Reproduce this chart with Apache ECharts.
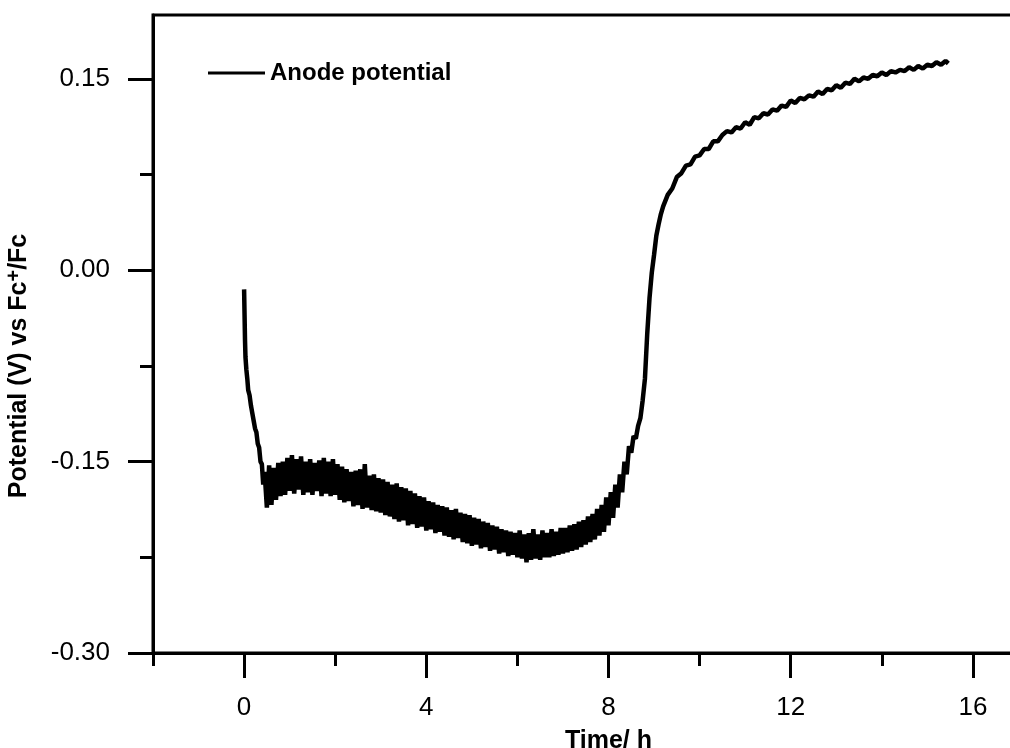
<!DOCTYPE html>
<html><head><meta charset="utf-8">
<script src="https://cdn.jsdelivr.net/npm/echarts@6/dist/echarts.min.js"></script>
<style>html,body{margin:0;padding:0;background:#fff}#c{width:1010px;height:748px}</style>
</head><body><div id="c"></div>
<script>
const seriesName = 'Anode potential';
const xAxisName = 'Time/ h';
const xMajorTicks = [0, 4, 8, 12, 16];
const xMinorTicks = [-2, 2, 6, 10, 14, 18];
const yMajorTicks = [-0.30, -0.15, 0, 0.15];
const yMinorTicks = [-0.225, -0.075, 0.075];

const timeH = [
  0, 0.01, 0.02, 0.03, 0.05, 0.07, 0.09, 0.12, 0.15, 0.18, 0.21, 0.24, 0.27, 0.30, 0.33, 0.36, 0.39, 0.42,
  0.45,0.50,0.55,0.60,0.65,0.70,0.75,0.80,0.85,0.90,
  0.95,1.00,1.05,1.10,1.15,1.20,1.25,1.30,1.35,1.40,
  1.45,1.50,1.55,1.60,1.65,1.70,1.75,1.80,1.85,1.90,
  1.95,2.00,2.05,2.10,2.15,2.20,2.25,2.30,2.35,2.40,
  2.45,2.50,2.55,2.60,2.65,2.70,2.75,2.80,2.85,2.90,
  2.95,3.00,3.05,3.10,3.15,3.20,3.25,3.30,3.35,3.40,
  3.45,3.50,3.55,3.60,3.65,3.70,3.75,3.80,3.85,3.90,
  3.95,4.00,4.05,4.10,4.15,4.20,4.25,4.30,4.35,4.40,
  4.45,4.50,4.55,4.60,4.65,4.70,4.75,4.80,4.85,4.90,
  4.95,5.00,5.05,5.10,5.15,5.20,5.25,5.30,5.35,5.40,
  5.45,5.50,5.55,5.60,5.65,5.70,5.75,5.80,5.85,5.90,
  5.95,6.00,6.05,6.10,6.15,6.20,6.25,6.30,6.35,6.40,
  6.45,6.50,6.55,6.60,6.65,6.70,6.75,6.80,6.85,6.90,
  6.95,7.00,7.05,7.10,7.15,7.20,7.25,7.30,7.35,7.40,
  7.45,7.50,7.55,7.60,7.65,7.70,7.75,7.80,7.85,7.90,
  7.95,8.00,8.05,8.10,8.15,8.20,8.25,8.30,8.35,8.40,
  8.45,8.50,8.55,8.60,8.65,8.70,8.75,8.80,8.85,8.90,
  8.95,9.00,9.05,9.10,9.15,9.20,
  9.3,9.4,9.5,9.6,9.7,9.8,9.9,10.0,10.1,10.2,10.3,10.4,10.5,
  10.6,10.7,10.8,10.9,11.0,11.1,11.2,11.3,11.4,11.5,
  11.6,11.7,11.8,11.9,12.0,12.1,12.2,12.3,12.4,12.5,
  12.6,12.7,12.8,12.9,13.0,13.1,13.2,13.3,13.4,13.5,
  13.6,13.7,13.8,13.9,14.0,14.1,14.2,14.3,14.4,14.5,
  14.6,14.7,14.8,14.9,15.0,15.1,15.2,15.3,15.4,
  15.46
];

const potentialV = [
  -0.015,-0.035,-0.055,-0.068,-0.078,-0.085,-0.094,-0.098,-0.106,-0.112,-0.118,-0.124,-0.127,-0.136,-0.139,-0.150,-0.152,-0.168,
  -0.158,-0.186,-0.153,-0.184,-0.155,-0.180,-0.151,-0.177,-0.150,-0.176,
  -0.147,-0.173,-0.145,-0.175,-0.148,-0.172,-0.146,-0.176,-0.150,-0.174,
  -0.148,-0.176,-0.151,-0.173,-0.149,-0.177,-0.147,-0.175,-0.150,-0.177,
  -0.148,-0.176,-0.152,-0.180,-0.154,-0.182,-0.156,-0.181,-0.158,-0.185,
  -0.157,-0.184,-0.156,-0.187,-0.152,-0.186,-0.161,-0.188,-0.160,-0.189,
  -0.163,-0.190,-0.164,-0.192,-0.166,-0.193,-0.168,-0.195,-0.167,-0.197,
  -0.170,-0.196,-0.171,-0.200,-0.173,-0.199,-0.175,-0.202,-0.177,-0.201,
  -0.178,-0.204,-0.181,-0.203,-0.182,-0.206,-0.184,-0.205,-0.185,-0.208,
  -0.186,-0.209,-0.188,-0.211,-0.187,-0.210,-0.190,-0.213,-0.191,-0.214,
  -0.192,-0.216,-0.194,-0.215,-0.195,-0.218,-0.197,-0.217,-0.198,-0.220,
  -0.200,-0.219,-0.201,-0.222,-0.203,-0.221,-0.204,-0.224,-0.205,-0.223,
  -0.206,-0.225,-0.204,-0.226,-0.207,-0.229,-0.206,-0.227,-0.203,-0.226,
  -0.207,-0.227,-0.204,-0.225,-0.206,-0.225,-0.203,-0.224,-0.205,-0.223,
  -0.202,-0.222,-0.202,-0.221,-0.200,-0.220,-0.199,-0.219,-0.197,-0.217,
  -0.196,-0.215,-0.193,-0.213,-0.191,-0.211,-0.187,-0.208,-0.184,-0.205,
  -0.178,-0.200,-0.174,-0.194,-0.168,-0.186,-0.160,-0.174,-0.150,-0.160,
  -0.138,-0.143,-0.130,-0.132,-0.122,-0.116,-0.102,-0.085,-0.050,-0.022,
  -0.002,0.012,0.027,0.036,0.044,0.050,
  0.059,0.064,0.073,0.076,0.082,0.083,0.089,0.090,0.095,0.095,0.101,0.101,0.106,
  0.109,0.108,0.112,0.111,0.116,0.114,0.120,0.119,0.123,0.122,
  0.126,0.125,0.129,0.128,0.133,0.131,0.135,0.134,0.137,0.136,
  0.140,0.138,0.142,0.141,0.145,0.143,0.147,0.146,0.150,0.148,
  0.151,0.150,0.153,0.152,0.155,0.153,0.156,0.155,0.157,0.156,
  0.159,0.157,0.160,0.158,0.161,0.160,0.163,0.161,0.164,
  0.162
];

const FONT = 'Liberation Sans, Arial, sans-serif';
const BLACK = '#000';
const seriesData = timeH.map((t, i) => [t, potentialV[i]]);

const chart = echarts.init(document.getElementById('c'), null, { renderer: 'canvas' });
chart.setOption({
  animation: false,
  backgroundColor: '#fff',
  grid: {
    left: 153, top: 15, bottom: 95, right: -54,
    outerBoundsMode: 'none', containLabel: false,
    show: true, borderColor: BLACK, borderWidth: 3, backgroundColor: 'transparent'
  },
  legend: {
    data: [{ name: seriesName, icon: 'rect' }], left: 208, top: 61, padding: 0,
    itemWidth: 57, itemHeight: 3,
    textStyle: { fontFamily: FONT, fontSize: 24, fontWeight: 'bold', color: BLACK }
  },
  xAxis: [
    {
      type: 'value', min: -2, max: 18, position: 'bottom',
      name: xAxisName, nameLocation: 'middle', nameGap: 76,
      nameTextStyle: { fontFamily: FONT, fontSize: 25, fontWeight: 'bold', color: BLACK },
      axisLine: { show: true, onZero: false, lineStyle: { color: BLACK, width: 3 } },
      axisTick: { show: true, customValues: xMajorTicks, length: 25, lineStyle: { color: BLACK, width: 3 } },
      axisLabel: { show: true, customValues: xMajorTicks, margin: 42, fontFamily: FONT, fontSize: 26, color: BLACK },
      splitLine: { show: false }
    },
    {
      type: 'value', min: -2, max: 18, position: 'bottom',
      axisLine: { show: false, onZero: false },
      axisTick: { show: true, customValues: xMinorTicks, length: 13, lineStyle: { color: BLACK, width: 3 } },
      axisLabel: { show: false },
      splitLine: { show: false }
    }
  ],
  yAxis: [
    {
      type: 'value', min: -0.3, max: 0.2, position: 'left',
      name: '{b|Potential (V) vs Fc}{s|+}{b|/Fc}', nameLocation: 'middle', nameGap: 119,
      nameTextStyle: {
        color: BLACK,
        padding: [0, 64, 0, 0],
        rich: {
          b: { fontFamily: FONT, fontSize: 25, fontWeight: 'bold', color: BLACK, lineHeight: 30 },
          s: { fontFamily: FONT, fontSize: 20, fontWeight: 'bold', color: BLACK, verticalAlign: 'top', lineHeight: 30 }
        }
      },
      axisLine: { show: true, onZero: false, lineStyle: { color: BLACK, width: 3 } },
      axisTick: { show: true, customValues: yMajorTicks, length: 25, lineStyle: { color: BLACK, width: 3 } },
      axisLabel: { show: true, customValues: yMajorTicks, margin: 43, fontFamily: FONT, fontSize: 26, color: BLACK,
        formatter: v => Number(v).toFixed(2) },
      splitLine: { show: false }
    },
    {
      type: 'value', min: -0.3, max: 0.2, position: 'left',
      axisLine: { show: false, onZero: false },
      axisTick: { show: true, customValues: yMinorTicks, length: 13, lineStyle: { color: BLACK, width: 3 } },
      axisLabel: { show: false },
      splitLine: { show: false }
    }
  ],
  series: [{
    name: seriesName, type: 'line', xAxisIndex: 0, yAxisIndex: 0,
    data: seriesData, showSymbol: false, symbol: 'none', smooth: false,
    lineStyle: { color: BLACK, width: 4.5 }, itemStyle: { color: BLACK }
  }]
});
</script>
</body></html>
